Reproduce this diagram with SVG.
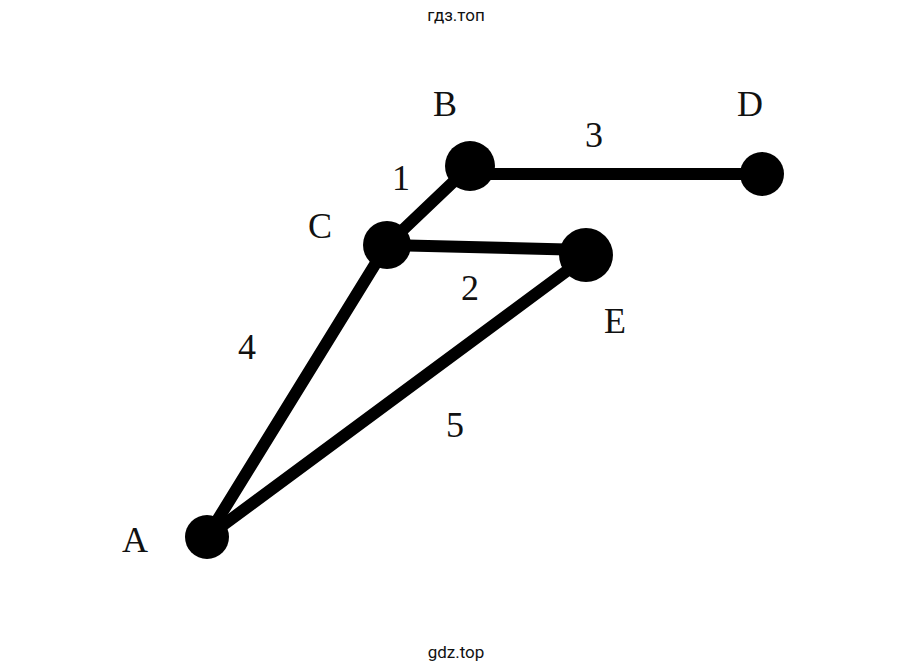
<svg xmlns="http://www.w3.org/2000/svg" width="913" height="672" viewBox="0 0 913 672">
<style>
.lbl{font-family:"Liberation Serif","Times New Roman",serif;font-size:36px;fill:#111;text-anchor:middle}
.wm{font-family:Roboto,"Noto Sans",sans-serif;font-size:17px;fill:#111;text-anchor:middle}
.edge{stroke:#000;stroke-width:12;stroke-linecap:round;fill:none}
.node{fill:#000}
</style>
<rect width="913" height="672" fill="#fff"/>
<text class="wm" x="456" y="21">гдз.топ</text>
<text class="wm" x="456" y="658">gdz.top</text>
<g id="connectors">
<line class="edge" x1="470" y1="166" x2="387" y2="245"/>
<line class="edge" x1="470" y1="174" x2="762" y2="174"/>
<line class="edge" x1="387" y1="245" x2="587" y2="250"/>
<line class="edge" x1="387" y1="245" x2="207" y2="537"/>
<line class="edge" x1="587" y1="256" x2="207" y2="537"/>
</g>
<g id="edge-labels">
<text class="lbl" x="401" y="190">1</text>
<text class="lbl" x="470" y="300">2</text>
<text class="lbl" x="594" y="147">3</text>
<text class="lbl" x="247" y="359">4</text>
<text class="lbl" x="455" y="437">5</text>
</g>
<g id="node-A"><circle class="node" cx="207" cy="537" r="22"/><text class="lbl" x="135" y="552">A</text></g>
<g id="node-B"><circle class="node" cx="470" cy="166" r="25"/><text class="lbl" x="445" y="116">B</text></g>
<g id="node-C"><circle class="node" cx="387" cy="245" r="24"/><text class="lbl" x="320" y="238">C</text></g>
<g id="node-D"><circle class="node" cx="762" cy="174" r="22"/><text class="lbl" x="750" y="116">D</text></g>
<g id="node-E"><circle class="node" cx="586" cy="255" r="27"/><text class="lbl" x="615" y="333">E</text></g>
</svg>
